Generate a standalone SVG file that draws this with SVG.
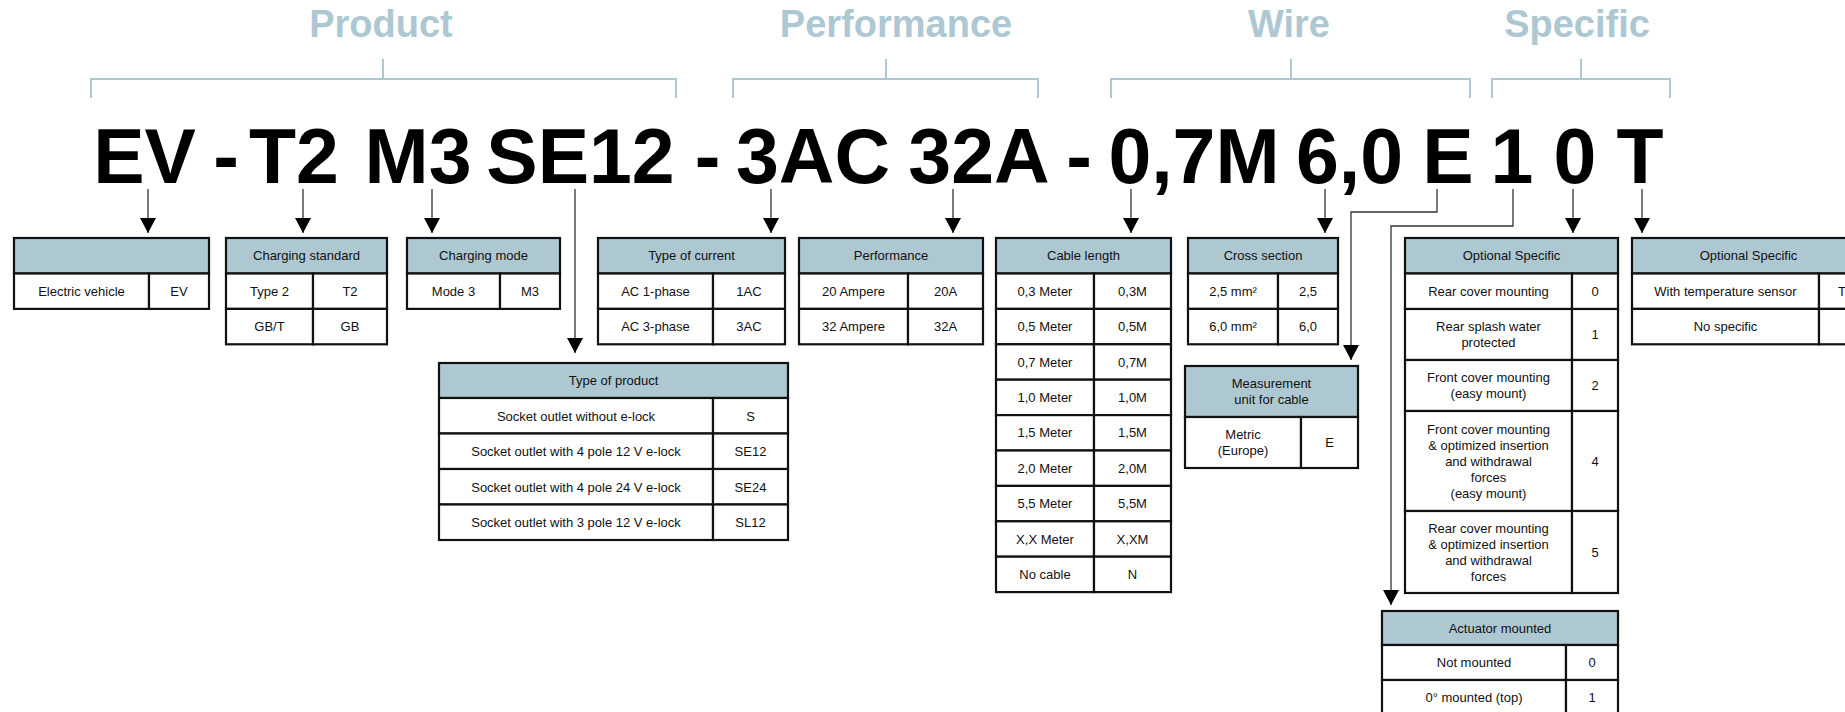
<svg xmlns="http://www.w3.org/2000/svg" width="1845" height="712" viewBox="0 0 1845 712">
<style>
.ttl{font-family:"Liberation Sans",Arial,sans-serif;font-weight:bold;font-size:38px;fill:#adc8d2;text-anchor:middle}
.br{fill:none;stroke:#adc8d2;stroke-width:2}
.code{font-family:"Liberation Sans",Arial,sans-serif;font-weight:bold;font-size:77px;fill:#000;text-anchor:middle}
.hd{fill:#aec8d1;stroke:#111;stroke-width:2.2}
.c{fill:#fff;stroke:#111;stroke-width:2.2}
.t{font-family:"Liberation Sans",Arial,sans-serif;font-size:13px;fill:#111;text-anchor:middle}
.ln{fill:none;stroke:#333;stroke-width:1.3}
</style>
<defs>
<marker id="ah" viewBox="0 0 15 16" refX="15" refY="8" markerWidth="15" markerHeight="16" orient="auto" markerUnits="userSpaceOnUse"><path d="M0,0 L15,8 L0,16 z" fill="#000"/></marker>
</defs>
<rect width="1845" height="712" fill="#fff"/>

<g id="categories">
<text class="ttl" x="381" y="37">Product</text>
<path class="br" d="M91,98 V79 H676 V98 M383,59 V79"/>
<text class="ttl" x="896" y="37">Performance</text>
<path class="br" d="M733,98 V79 H1038 V98 M886,59 V79"/>
<text class="ttl" x="1289" y="37">Wire</text>
<path class="br" d="M1111,98 V79 H1470 V98 M1291,59 V79"/>
<text class="ttl" x="1577" y="37">Specific</text>
<path class="br" d="M1492,98 V79 H1670 V98 M1581,59 V79"/>
</g>

<g id="code">
<text class="code" x="144.5" y="183">EV</text>
<text class="code" x="226" y="183">-</text>
<text class="code" x="294" y="183">T2</text>
<text class="code" x="418" y="183">M3</text>
<text class="code" x="580.5" y="183">SE12</text>
<text class="code" x="707.5" y="183">-</text>
<text class="code" x="813" y="183">3AC</text>
<text class="code" x="979" y="183">32A</text>
<text class="code" x="1079" y="183">-</text>
<text class="code" x="1194" y="183">0,7M</text>
<text class="code" x="1349.5" y="183">6,0</text>
<text class="code" x="1448" y="183">E</text>
<text class="code" x="1512" y="183">1</text>
<text class="code" x="1575" y="183">0</text>
<text class="code" x="1640" y="183">T</text>
</g>

<g id="connectors">
<path class="ln" d="M148,189 V233" marker-end="url(#ah)"/>
<path class="ln" d="M303,189 V233" marker-end="url(#ah)"/>
<path class="ln" d="M432,189 V233" marker-end="url(#ah)"/>
<path class="ln" d="M575,189 V353" marker-end="url(#ah)"/>
<path class="ln" d="M771,189 V233" marker-end="url(#ah)"/>
<path class="ln" d="M953,189 V233" marker-end="url(#ah)"/>
<path class="ln" d="M1131,189 V233" marker-end="url(#ah)"/>
<path class="ln" d="M1325,189 V233" marker-end="url(#ah)"/>
<path class="ln" d="M1437,189 V212 H1351 V360" marker-end="url(#ah)"/>
<path class="ln" d="M1513,189 V226 H1391 V605" marker-end="url(#ah)"/>
<path class="ln" d="M1573,189 V233" marker-end="url(#ah)"/>
<path class="ln" d="M1642,189 V233" marker-end="url(#ah)"/>
</g>

<g id="t-electric-vehicle">
<rect class="hd" x="14" y="238" width="195" height="35.5"/>
<rect class="c" x="14" y="273.5" width="135" height="35.4"/>
<rect class="c" x="149" y="273.5" width="60" height="35.4"/>
<text class="t" x="81.5" y="295.7">Electric vehicle</text>
<text class="t" x="179" y="295.7">EV</text>
</g>

<g id="t-charging-standard">
<rect class="hd" x="226" y="238" width="161" height="35.5"/>
<rect class="c" x="226" y="273.5" width="87" height="35.4"/>
<rect class="c" x="313" y="273.5" width="74" height="35.4"/>
<rect class="c" x="226" y="308.9" width="87" height="35.4"/>
<rect class="c" x="313" y="308.9" width="74" height="35.4"/>
<text class="t" x="306.5" y="260.2">Charging standard</text>
<text class="t" x="269.5" y="295.7">Type 2</text>
<text class="t" x="350" y="295.7">T2</text>
<text class="t" x="269.5" y="331.1">GB/T</text>
<text class="t" x="350" y="331.1">GB</text>
</g>

<g id="t-charging-mode">
<rect class="hd" x="407" y="238" width="153" height="35.5"/>
<rect class="c" x="407" y="273.5" width="93" height="35.4"/>
<rect class="c" x="500" y="273.5" width="60" height="35.4"/>
<text class="t" x="483.5" y="260.2">Charging mode</text>
<text class="t" x="453.5" y="295.7">Mode 3</text>
<text class="t" x="530" y="295.7">M3</text>
</g>

<g id="t-type-of-current">
<rect class="hd" x="598" y="238" width="187" height="35.5"/>
<rect class="c" x="598" y="273.5" width="115" height="35.4"/>
<rect class="c" x="713" y="273.5" width="72" height="35.4"/>
<rect class="c" x="598" y="308.9" width="115" height="35.4"/>
<rect class="c" x="713" y="308.9" width="72" height="35.4"/>
<text class="t" x="691.5" y="260.2">Type of current</text>
<text class="t" x="655.5" y="295.7">AC 1-phase</text>
<text class="t" x="749" y="295.7">1AC</text>
<text class="t" x="655.5" y="331.1">AC 3-phase</text>
<text class="t" x="749" y="331.1">3AC</text>
</g>

<g id="t-performance">
<rect class="hd" x="799" y="238" width="184" height="35.5"/>
<rect class="c" x="799" y="273.5" width="109" height="35.4"/>
<rect class="c" x="908" y="273.5" width="75" height="35.4"/>
<rect class="c" x="799" y="308.9" width="109" height="35.4"/>
<rect class="c" x="908" y="308.9" width="75" height="35.4"/>
<text class="t" x="891" y="260.2">Performance</text>
<text class="t" x="853.5" y="295.7">20 Ampere</text>
<text class="t" x="945.5" y="295.7">20A</text>
<text class="t" x="853.5" y="331.1">32 Ampere</text>
<text class="t" x="945.5" y="331.1">32A</text>
</g>

<g id="t-cable-length">
<rect class="hd" x="996" y="238" width="175" height="35.5"/>
<rect class="c" x="996" y="273.5" width="98" height="35.4"/><rect class="c" x="1094" y="273.5" width="77" height="35.4"/>
<rect class="c" x="996" y="308.9" width="98" height="35.4"/><rect class="c" x="1094" y="308.9" width="77" height="35.4"/>
<rect class="c" x="996" y="344.3" width="98" height="35.4"/><rect class="c" x="1094" y="344.3" width="77" height="35.4"/>
<rect class="c" x="996" y="379.7" width="98" height="35.4"/><rect class="c" x="1094" y="379.7" width="77" height="35.4"/>
<rect class="c" x="996" y="415.1" width="98" height="35.4"/><rect class="c" x="1094" y="415.1" width="77" height="35.4"/>
<rect class="c" x="996" y="450.5" width="98" height="35.4"/><rect class="c" x="1094" y="450.5" width="77" height="35.4"/>
<rect class="c" x="996" y="485.9" width="98" height="35.4"/><rect class="c" x="1094" y="485.9" width="77" height="35.4"/>
<rect class="c" x="996" y="521.3" width="98" height="35.4"/><rect class="c" x="1094" y="521.3" width="77" height="35.4"/>
<rect class="c" x="996" y="556.7" width="98" height="35.4"/><rect class="c" x="1094" y="556.7" width="77" height="35.4"/>
<text class="t" x="1083.5" y="260.2">Cable length</text>
<text class="t" x="1045" y="295.7">0,3 Meter</text><text class="t" x="1132.5" y="295.7">0,3M</text>
<text class="t" x="1045" y="331.1">0,5 Meter</text><text class="t" x="1132.5" y="331.1">0,5M</text>
<text class="t" x="1045" y="366.5">0,7 Meter</text><text class="t" x="1132.5" y="366.5">0,7M</text>
<text class="t" x="1045" y="401.9">1,0 Meter</text><text class="t" x="1132.5" y="401.9">1,0M</text>
<text class="t" x="1045" y="437.3">1,5 Meter</text><text class="t" x="1132.5" y="437.3">1,5M</text>
<text class="t" x="1045" y="472.7">2,0 Meter</text><text class="t" x="1132.5" y="472.7">2,0M</text>
<text class="t" x="1045" y="508.1">5,5 Meter</text><text class="t" x="1132.5" y="508.1">5,5M</text>
<text class="t" x="1045" y="543.5">X,X Meter</text><text class="t" x="1132.5" y="543.5">X,XM</text>
<text class="t" x="1045" y="578.9">No cable</text><text class="t" x="1132.5" y="578.9">N</text>
</g>

<g id="t-cross-section">
<rect class="hd" x="1188" y="238" width="150" height="35.5"/>
<rect class="c" x="1188" y="273.5" width="90" height="35.4"/>
<rect class="c" x="1278" y="273.5" width="60" height="35.4"/>
<rect class="c" x="1188" y="308.9" width="90" height="35.4"/>
<rect class="c" x="1278" y="308.9" width="60" height="35.4"/>
<text class="t" x="1263" y="260.2">Cross section</text>
<text class="t" x="1233" y="295.7">2,5 mm²</text>
<text class="t" x="1308" y="295.7">2,5</text>
<text class="t" x="1233" y="331.1">6,0 mm²</text>
<text class="t" x="1308" y="331.1">6,0</text>
</g>

<g id="t-measurement-unit">
<rect class="hd" x="1185" y="366" width="173" height="51"/>
<rect class="c" x="1185" y="417" width="116" height="51"/>
<rect class="c" x="1301" y="417" width="57" height="51"/>
<text class="t" x="1271.5" y="388">Measurement</text>
<text class="t" x="1271.5" y="404">unit for cable</text>
<text class="t" x="1243" y="439">Metric</text>
<text class="t" x="1243" y="455">(Europe)</text>
<text class="t" x="1329.5" y="447">E</text>
</g>

<g id="t-type-of-product">
<rect class="hd" x="439" y="363" width="349" height="35"/>
<rect class="c" x="439" y="398" width="274" height="35.5"/><rect class="c" x="713" y="398" width="75" height="35.5"/>
<rect class="c" x="439" y="433.5" width="274" height="35.5"/><rect class="c" x="713" y="433.5" width="75" height="35.5"/>
<rect class="c" x="439" y="469" width="274" height="35.5"/><rect class="c" x="713" y="469" width="75" height="35.5"/>
<rect class="c" x="439" y="504.5" width="274" height="35.5"/><rect class="c" x="713" y="504.5" width="75" height="35.5"/>
<text class="t" x="613.5" y="385">Type of product</text>
<text class="t" x="576" y="420.5">Socket outlet without e-lock</text><text class="t" x="750.5" y="420.5">S</text>
<text class="t" x="576" y="456">Socket outlet with 4 pole 12 V e-lock</text><text class="t" x="750.5" y="456">SE12</text>
<text class="t" x="576" y="491.5">Socket outlet with 4 pole 24 V e-lock</text><text class="t" x="750.5" y="491.5">SE24</text>
<text class="t" x="576" y="527">Socket outlet with 3 pole 12 V e-lock</text><text class="t" x="750.5" y="527">SL12</text>
</g>

<g id="t-optional-specific-1">
<rect class="hd" x="1405" y="238" width="213" height="35.5"/>
<rect class="c" x="1405" y="273.5" width="167" height="35.5"/><rect class="c" x="1572" y="273.5" width="46" height="35.5"/>
<rect class="c" x="1405" y="309" width="167" height="51"/><rect class="c" x="1572" y="309" width="46" height="51"/>
<rect class="c" x="1405" y="360" width="167" height="51"/><rect class="c" x="1572" y="360" width="46" height="51"/>
<rect class="c" x="1405" y="411" width="167" height="100"/><rect class="c" x="1572" y="411" width="46" height="100"/>
<rect class="c" x="1405" y="511" width="167" height="82"/><rect class="c" x="1572" y="511" width="46" height="82"/>
<text class="t" x="1511.5" y="260.2">Optional Specific</text>
<text class="t" x="1488.5" y="295.7">Rear cover mounting</text><text class="t" x="1595" y="295.7">0</text>
<text class="t" x="1488.5" y="331">Rear splash water</text>
<text class="t" x="1488.5" y="347">protected</text><text class="t" x="1595" y="339">1</text>
<text class="t" x="1488.5" y="382">Front cover mounting</text>
<text class="t" x="1488.5" y="398">(easy mount)</text><text class="t" x="1595" y="390">2</text>
<text class="t" x="1488.5" y="433.5">Front cover mounting</text>
<text class="t" x="1488.5" y="449.5">&amp; optimized insertion</text>
<text class="t" x="1488.5" y="465.5">and withdrawal</text>
<text class="t" x="1488.5" y="481.5">forces</text>
<text class="t" x="1488.5" y="497.5">(easy mount)</text><text class="t" x="1595" y="465.5">4</text>
<text class="t" x="1488.5" y="532.5">Rear cover mounting</text>
<text class="t" x="1488.5" y="548.5">&amp; optimized insertion</text>
<text class="t" x="1488.5" y="564.5">and withdrawal</text>
<text class="t" x="1488.5" y="580.5">forces</text><text class="t" x="1595" y="556.5">5</text>
</g>

<g id="t-optional-specific-2">
<rect class="hd" x="1632" y="238" width="233" height="35.5"/>
<rect class="c" x="1632" y="273.5" width="187" height="35.4"/><rect class="c" x="1819" y="273.5" width="46" height="35.4"/>
<rect class="c" x="1632" y="308.9" width="187" height="35.4"/><rect class="c" x="1819" y="308.9" width="46" height="35.4"/>
<text class="t" x="1748.5" y="260.2">Optional Specific</text>
<text class="t" x="1725.5" y="295.7">With temperature sensor</text><text class="t" x="1842" y="295.7">T</text>
<text class="t" x="1725.5" y="331.1">No specific</text>
</g>

<g id="t-actuator-mounted">
<rect class="hd" x="1382" y="611" width="236" height="34"/>
<rect class="c" x="1382" y="645" width="184" height="35"/><rect class="c" x="1566" y="645" width="52" height="35"/>
<rect class="c" x="1382" y="680" width="184" height="35"/><rect class="c" x="1566" y="680" width="52" height="35"/>
<text class="t" x="1500" y="632.5">Actuator mounted</text>
<text class="t" x="1474" y="667">Not mounted</text><text class="t" x="1592" y="667">0</text>
<text class="t" x="1474" y="702">0° mounted (top)</text><text class="t" x="1592" y="702">1</text>
</g>
</svg>
